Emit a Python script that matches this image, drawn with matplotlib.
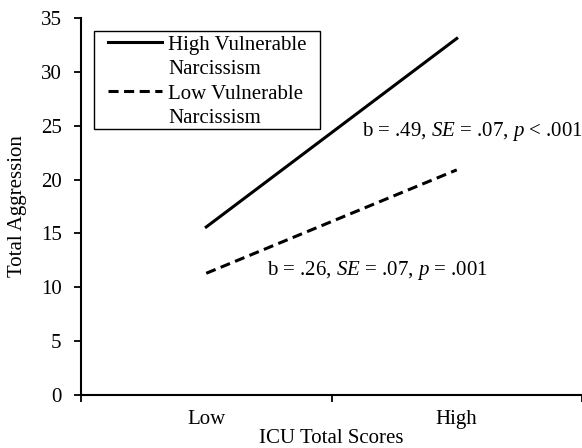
import matplotlib
matplotlib.use("Agg")
from matplotlib import pyplot as plt
from matplotlib.patches import Rectangle
from matplotlib.lines import Line2D

# data
categories = ["Low", "High"]
high_vn = [15.6, 33.1]
low_vn = [11.3, 20.9]
y_ticks = [0, 5, 10, 15, 20, 25, 30, 35]

plt.rcParams["font.family"] = ["Liberation Serif", "DejaVu Serif"]
plt.rcParams["mathtext.fontset"] = "custom"
plt.rcParams["mathtext.it"] = "Liberation Serif:italic"
plt.rcParams["mathtext.rm"] = "Liberation Serif"

FS = 15

fig = plt.figure(figsize=(5.82, 4.48), dpi=100)
ax = fig.add_axes([81 / 582, 53 / 448, 501 / 582, 377 / 448])

xpos = [0.5, 1.5]
h1, = ax.plot(xpos, high_vn, color="black", lw=2.2)
h2, = ax.plot(xpos, low_vn, color="black", lw=2.2, ls=(0, (3.3, 1.8)))

ax.set_xlim(0, 2)
ax.set_ylim(0, 35)
ax.set_yticks(y_ticks)
ax.set_xticks([0, 1, 2])
ax.set_xticklabels([])
ax.set_xticks(xpos, minor=True)
ax.set_xticklabels(categories, minor=True)
ax.tick_params(axis="x", which="minor", length=0, pad=10.5, labelsize=FS)
ax.tick_params(axis="x", which="major", length=5, width=1.3, direction="out")
ax.tick_params(axis="y", length=5, width=1.3, direction="out", pad=9, labelsize=FS)

ax.spines["top"].set_visible(False)
ax.spines["right"].set_visible(False)
ax.spines["left"].set_linewidth(1.5)
ax.spines["bottom"].set_linewidth(1.5)

ax.set_xlabel("ICU Total Scores", fontsize=FS, labelpad=0.3)
ax.set_ylabel("Total Aggression", fontsize=FS, labelpad=10)

ax.text(1.122, 24.5, r"b = .49, $SE$ = .07, $p$ < .001", fontsize=FS, va="center")
ax.text(0.742, 11.6, r"b = .26, $SE$ = .07, $p$ = .001", fontsize=FS, va="center")

# legend: each label wraps onto a second row with no handle
blank = Line2D([], [], color="none")
handles = [h1, blank, h2, blank]
labels = ["High Vulnerable", "Narcissism", "Low Vulnerable", "Narcissism"]
leg = ax.legend(handles, labels, loc="upper left", bbox_to_anchor=(0.054, 0.955),
                fontsize=FS, frameon=False, handlelength=2.6, borderpad=0,
                labelspacing=0.24, handletextpad=0.3, borderaxespad=0)
ax.add_patch(Rectangle((0.026, 0.7056), 0.451, 0.26, transform=ax.transAxes,
                       fill=False, edgecolor="black", lw=1.0, zorder=5))

fig.savefig("out.png", dpi=100)
